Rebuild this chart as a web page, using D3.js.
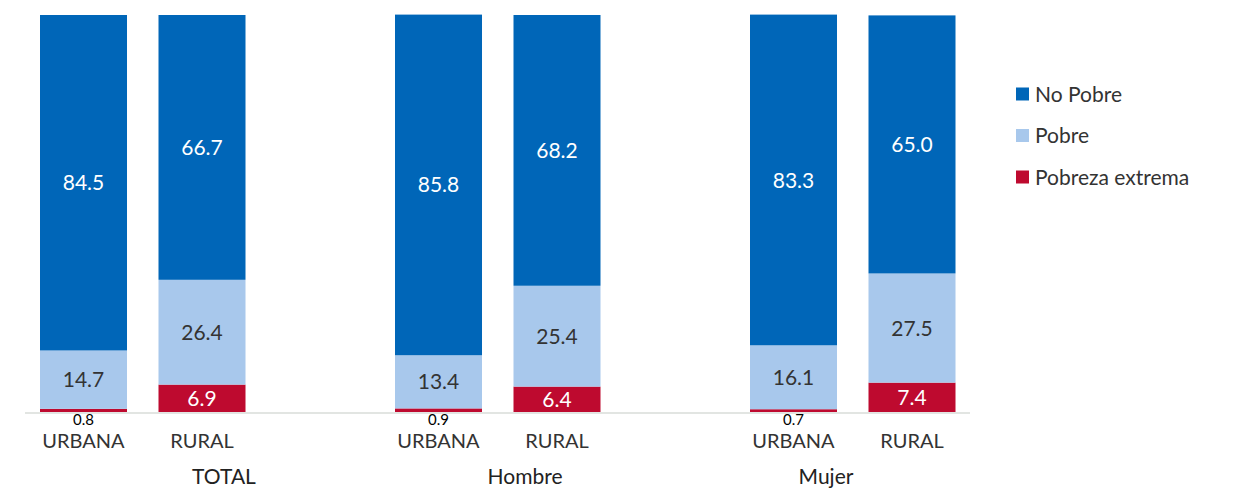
<!DOCTYPE html>
<html><head><meta charset="utf-8">
<script src="https://cdn.jsdelivr.net/npm/d3@7"></script>
<style>body{margin:0;background:#fff}svg{display:block}text{font-family:Lato,"Open Sans",sans-serif}</style>
</head><body>
<svg id="c" width="1248" height="494"></svg>
<script>
const groups = ["TOTAL", "Hombre", "Mujer"];
const areas = ["URBANA", "RURAL"];
const series = ["Pobreza extrema", "Pobre", "No Pobre"];
const extrema = [0.8, 6.9, 0.9, 6.4, 0.7, 7.4];
const pobre = [14.7, 26.4, 13.4, 25.4, 16.1, 27.5];
const noPobre = [84.5, 66.7, 85.8, 68.2, 83.3, 65.0];
const colors = ["#BE0A2F", "#A8C8EC", "#0066B8"];
const labelColors = ["#fff", "#333", "#fff"];

const rows = [];
groups.forEach((g, gi) => areas.forEach((a, ai) => {
  const i = gi * 2 + ai;
  rows.push({key: g + "|" + a, group: g, area: a, "Pobreza extrema": extrema[i], "Pobre": pobre[i], "No Pobre": noPobre[i]});
}));

const svg = d3.select("#c");
const y = d3.scaleLinear().domain([0, 100]).range([412, 15]);
const gx = d3.scaleBand().domain(groups).range([40, 1105]).padding(0);
const ax = d3.scaleBand().domain(areas).range([0, gx.bandwidth()])
  .paddingInner(0.2658).paddingOuter(0.6308).align(0);
const groupLabelX = d3.scalePoint().domain(groups).range([224, 826]);

const stack = d3.stack().keys(series)(rows);

svg.append("line").attr("x1", 25).attr("x2", 970).attr("y1", 413).attr("y2", 413)
  .attr("stroke", "#D9DDD9").attr("stroke-width", 1.5);

stack.forEach((s, si) => {
  const g = svg.append("g");
  g.selectAll("rect").data(s).join("rect")
    .attr("x", d => gx(d.data.group) + ax(d.data.area))
    .attr("width", ax.bandwidth())
    .attr("y", d => y(d[1]))
    .attr("height", d => y(d[0]) - y(d[1]))
    .attr("fill", colors[si]);
  g.selectAll("text").data(s).join("text")
    .attr("x", d => gx(d.data.group) + ax(d.data.area) + ax.bandwidth() / 2)
    .attr("y", d => {
      const v = d[1] - d[0];
      return v < 3 ? 420 : (y(d[0]) + y(d[1])) / 2;
    })
    .attr("dy", "0.36em")
    .attr("text-anchor", "middle")
    .attr("font-size", d => (d[1] - d[0]) < 3 ? 15 : 21)
    .attr("fill", d => (d[1] - d[0]) < 3 ? "#000" : labelColors[si])
    .text(d => d3.format(".1f")(d[1] - d[0]));
});

svg.append("g").selectAll("text").data(rows).join("text")
  .attr("x", d => gx(d.group) + ax(d.area) + ax.bandwidth() / 2)
  .attr("y", 441).attr("dy", "0.36em").attr("text-anchor", "middle")
  .attr("font-size", 20).attr("fill", "#333").text(d => d.area);

svg.append("g").selectAll("text").data(groups).join("text")
  .attr("x", d => groupLabelX(d)).attr("y", 476).attr("dy", "0.36em")
  .attr("text-anchor", "middle").attr("font-size", 21).attr("fill", "#222").text(d => d);

const legendOrder = ["No Pobre", "Pobre", "Pobreza extrema"];
const ly = d3.scalePoint().domain(legendOrder).range([94, 177]);
const leg = svg.append("g").selectAll("g").data(legendOrder).join("g")
  .attr("transform", d => `translate(1016,${ly(d)})`);
leg.append("rect").attr("x", 0).attr("y", -6.5).attr("width", 13).attr("height", 13)
  .attr("fill", d => colors[series.indexOf(d)]);
leg.append("text").attr("x", 19).attr("dy", "0.36em").attr("font-size", 21).attr("fill", "#333").text(d => d);
</script>
</body></html>
